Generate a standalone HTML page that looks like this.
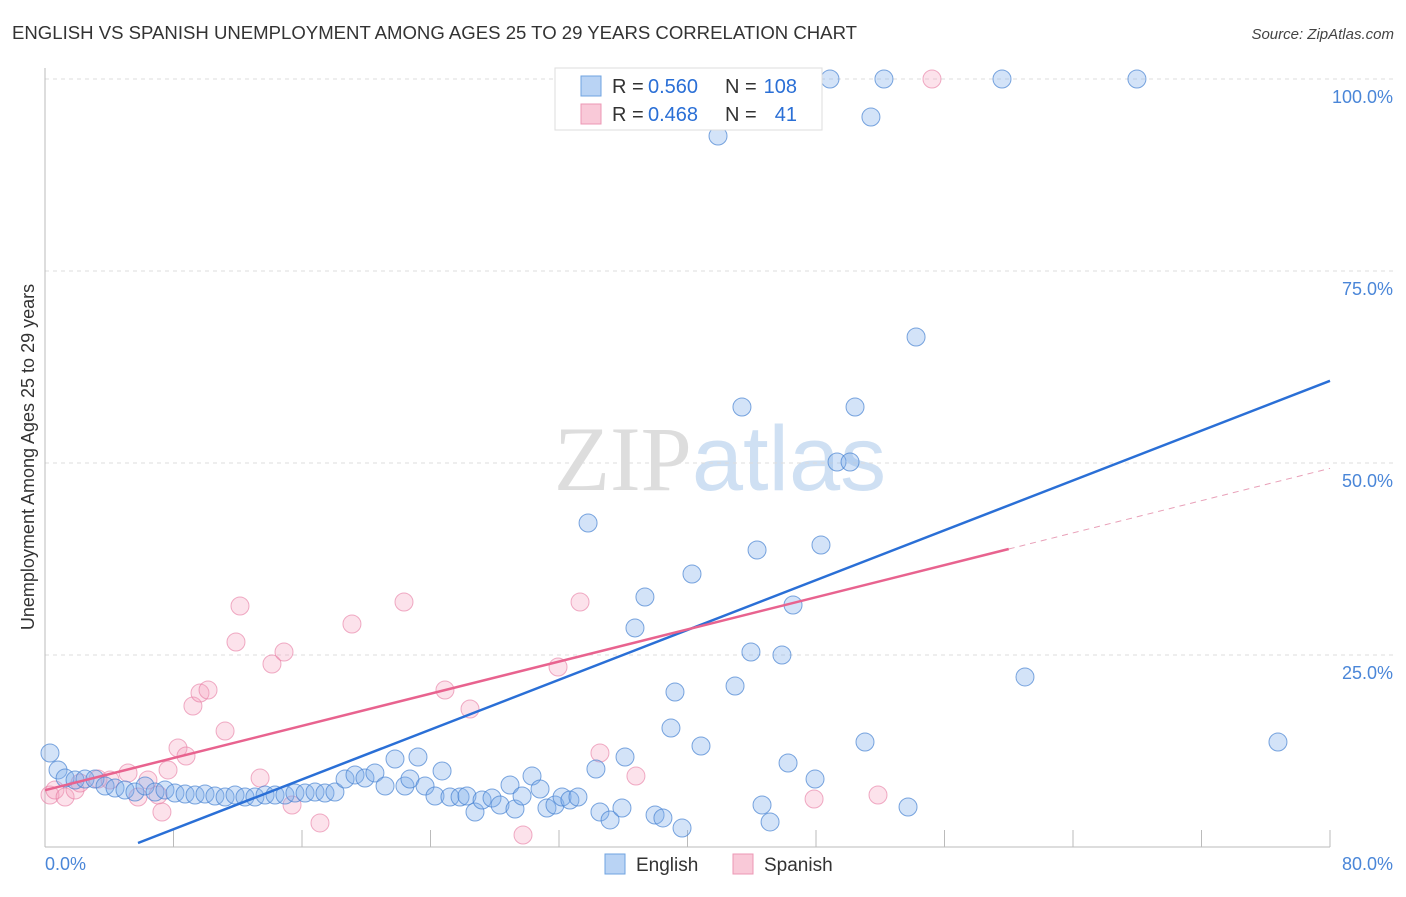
<!DOCTYPE html>
<html><head><meta charset="utf-8"><style>
body{margin:0;background:#fff;font-family:"Liberation Sans",sans-serif;}
svg text{font-family:"Liberation Sans",sans-serif;}
</style></head><body>
<svg id="c" width="1406" height="892" xmlns="http://www.w3.org/2000/svg">
<text x="12" y="39" font-size="18" fill="#333" textLength="845" lengthAdjust="spacingAndGlyphs">ENGLISH VS SPANISH UNEMPLOYMENT AMONG AGES 25 TO 29 YEARS CORRELATION CHART</text>
<text x="1394" y="39" font-size="15" fill="#444" text-anchor="end" font-style="italic">Source: ZipAtlas.com</text>
<text x="720" y="490" font-size="92" text-anchor="middle"><tspan fill="#ddd" font-family="Liberation Serif">ZIP</tspan><tspan fill="#cfe0f3">atlas</tspan></text>
<text transform="translate(34,457) rotate(-90)" font-size="18" fill="#333" text-anchor="middle">Unemployment Among Ages 25 to 29 years</text>
<g id="grid"></g><g id="marks"></g>
<g>
<rect x="555" y="68" width="267" height="62" fill="#fff" stroke="#ddd"/>
<rect x="581" y="76" width="20" height="20" fill="#b9d3f4" stroke="#6fa3e0"/>
<rect x="581" y="104" width="20" height="20" fill="#f9c9d8" stroke="#ec97b4"/>
<text x="612" y="93" font-size="20" fill="#333">R =</text>
<text x="648" y="93" font-size="20" fill="#2a6fd6">0.560</text>
<text x="725" y="93" font-size="20" fill="#333">N =</text>
<text x="797" y="93" font-size="20" fill="#2a6fd6" text-anchor="end">108</text>
<text x="612" y="121" font-size="20" fill="#333">R =</text>
<text x="648" y="121" font-size="20" fill="#2a6fd6">0.468</text>
<text x="725" y="121" font-size="20" fill="#333">N =</text>
<text x="797" y="121" font-size="20" fill="#2a6fd6" text-anchor="end">41</text>
</g>
<g>
<rect x="605" y="854" width="20" height="20" fill="#b9d3f4" stroke="#6fa3e0"/>
<text x="636" y="871" font-size="19" fill="#333">English</text>
<rect x="733" y="854" width="20" height="20" fill="#f9c9d8" stroke="#ec97b4"/>
<text x="764" y="871" font-size="19" fill="#333">Spanish</text>
</g>
</svg>
<script>
const yTicks=[25,50,75,100];
const yTickLabels=["25.0%","50.0%","75.0%","100.0%"];
const englishX=[0.31,0.81,1.25,1.87,2.49,3.11,3.74,4.36,4.98,5.60,6.23,6.85,7.47,8.09,8.72,9.34,9.96,10.58,11.21,11.83,12.45,13.07,13.70,14.32,14.94,15.56,16.19,16.81,17.43,18.05,18.68,19.30,19.92,20.54,21.17,21.79,22.41,22.72,23.22,23.66,24.28,24.72,25.21,25.84,26.27,26.77,27.21,27.83,28.33,28.95,29.26,29.70,30.32,30.82,31.25,31.75,32.19,32.68,33.18,33.81,34.30,34.55,35.18,35.92,36.11,36.73,37.35,37.98,38.47,38.97,39.22,39.66,40.28,40.84,41.40,41.90,42.96,43.39,43.95,44.33,44.64,45.14,45.88,46.26,46.57,47.94,48.31,48.87,49.31,50.12,50.43,51.05,51.42,52.23,53.73,54.23,59.58,61.01,67.98,76.76];
const englishY=[12.24,10.03,8.98,8.72,8.85,8.85,7.94,7.68,7.42,7.16,7.94,7.16,7.42,7.03,6.90,6.77,6.90,6.64,6.51,6.77,6.51,6.51,6.77,6.77,6.77,7.03,7.03,7.16,7.03,7.16,8.85,9.38,8.98,9.64,7.94,11.46,7.94,8.85,11.72,7.94,6.64,9.90,6.51,6.51,6.64,4.56,6.12,6.38,5.47,8.07,4.95,6.64,9.24,7.55,5.08,5.47,6.51,6.12,6.51,42.19,10.16,4.56,3.52,5.08,11.72,28.52,32.55,4.17,3.78,15.49,20.18,2.47,35.55,13.15,100,92.58,20.96,57.29,25.39,38.67,5.47,3.26,25.0,10.94,31.51,8.85,39.32,100,50.13,50.13,57.29,13.67,95.05,100,5.21,66.41,100,22.14,100,13.67];
const spanishX=[0.31,0.62,1.25,1.87,2.18,3.30,4.05,5.17,5.79,6.41,7.04,7.28,7.66,8.28,8.78,9.21,9.65,10.15,11.21,11.89,12.14,13.39,14.13,14.88,15.38,17.12,19.11,22.35,24.90,26.46,29.76,31.94,33.31,34.55,36.79,47.88,51.86,55.22];
const spanishY=[6.77,7.42,6.51,7.42,8.33,8.85,8.72,9.64,6.51,8.72,6.77,4.56,10.03,12.89,11.85,18.36,20.05,20.44,15.10,26.69,31.38,8.98,23.83,25.39,5.47,3.13,29.04,31.90,20.44,17.97,1.56,23.44,31.90,12.24,9.24,6.25,6.77,100];
const englishLine=[[5.79,0.52],[80,60.7]];
const spanishLine=[[0,7.4],[60,38.8]];
const spanishDash=[[60,38.8],[80,49.3]];
const X=v=>45+v*16.0625, Y=v=>847-v*7.68;
const NS="http://www.w3.org/2000/svg";
function mk(t,a,p){const e=document.createElementNS(NS,t);for(const k in a)e.setAttribute(k,a[k]);p.appendChild(e);return e;}
const g=document.getElementById('grid'), m=document.getElementById('marks');
yTicks.forEach((t,i)=>{
 const l=mk('line',{x1:45,x2:1394,y1:Y(t),y2:Y(t),stroke:'#ddd','stroke-dasharray':'4,4'},g);
 
 
 const tx=mk('text',{x:1393,y:Y(t)+24,'font-size':18,fill:'#4a86d8','text-anchor':'end'},g);tx.textContent=yTickLabels[i];
 
 
});
mk('line',{x1:45,x2:45,y1:68,y2:847,stroke:'#bbb'},g);
mk('line',{x1:45,x2:1330,y1:847,y2:847,stroke:'#bbb'},g);
for(let i=0;i<=10;i++){mk('line',{x1:X(i*8),x2:X(i*8),y1:830,y2:847,stroke:'#bbb'},g);}
const a=mk('text',{x:45,y:870,'font-size':18,fill:'#4a86d8'},g);a.textContent='0.0%';


const b=mk('text',{x:1393,y:870,'font-size':18,fill:'#4a86d8','text-anchor':'end'},g);b.textContent='80.0%';


spanishX.forEach((x,i)=>{const c=mk('circle',{cx:X(x),cy:Y(spanishY[i]),r:9,fill:'rgba(245,160,190,0.3)',stroke:'rgba(230,120,160,0.6)'},m);
 
 });
englishX.forEach((x,i)=>{const c=mk('circle',{cx:X(x),cy:Y(englishY[i]),r:9,fill:'rgba(130,175,235,0.35)',stroke:'rgba(70,130,210,0.7)'},m);
 
 });
const l1=mk('line',{x1:X(englishLine[0][0]),y1:Y(englishLine[0][1]),x2:X(englishLine[1][0]),y2:Y(englishLine[1][1]),stroke:'#2a6fd6','stroke-width':2.5},m);


const l2=mk('line',{x1:X(spanishLine[0][0]),y1:Y(spanishLine[0][1]),x2:X(spanishLine[1][0]),y2:Y(spanishLine[1][1]),stroke:'#e8638f','stroke-width':2.5},m);


const l3=mk('line',{x1:X(spanishDash[0][0]),y1:Y(spanishDash[0][1]),x2:X(spanishDash[1][0]),y2:Y(spanishDash[1][1]),stroke:'#e8a0b8','stroke-width':1,'stroke-dasharray':'6,5'},m);


</script>
</body></html>
